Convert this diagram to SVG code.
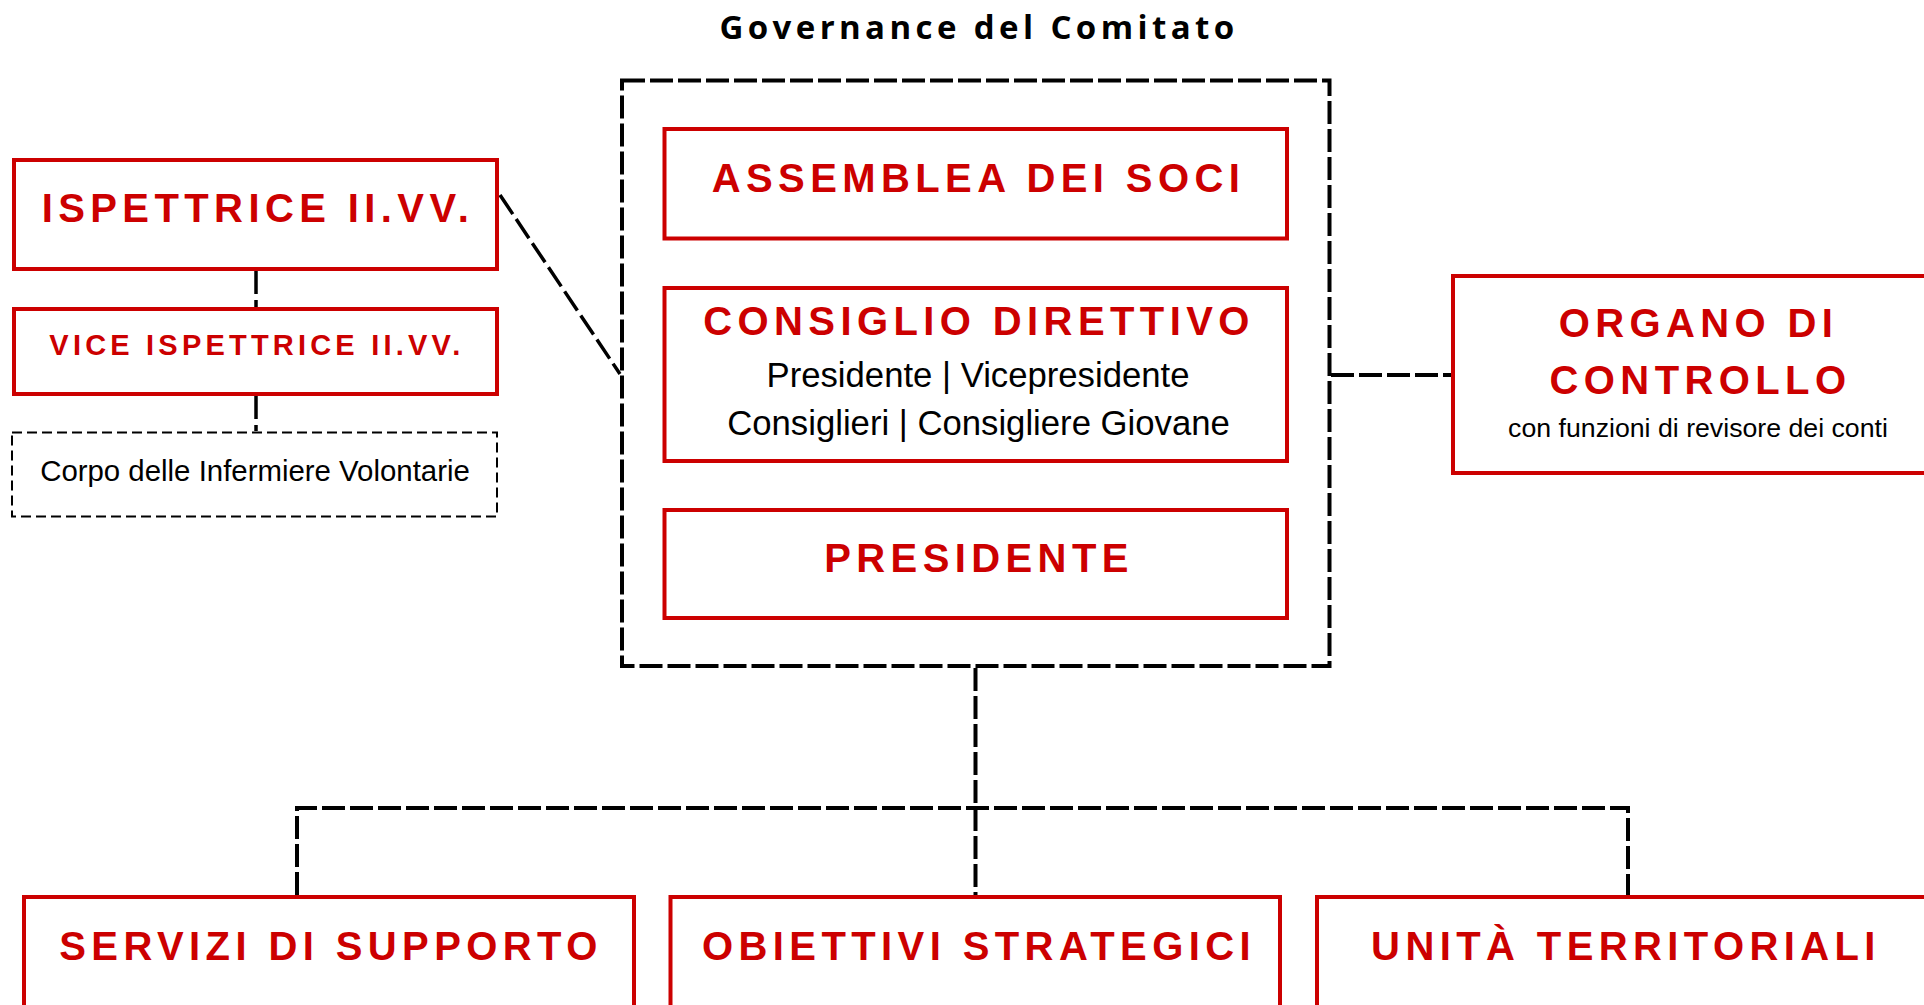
<svg xmlns="http://www.w3.org/2000/svg" width="1924" height="1005" viewBox="0 0 1924 1005">
<style>
.box{fill:#fff;stroke:#cc0000;stroke-width:4}
.dbox{fill:#fff;stroke:#000;stroke-width:2;stroke-dasharray:10 5}
.outer{fill:none;stroke:#000;stroke-width:4;stroke-dasharray:23 5}
.conn{fill:none;stroke:#000;stroke-width:4;stroke-dasharray:23 5}
.thin{fill:none;stroke:#000;stroke-width:3.5;stroke-dasharray:23 6}
.rt{font-family:"Liberation Sans",Arial,sans-serif;font-weight:bold;fill:#cc0000;text-anchor:middle;letter-spacing:5.4px}
.bt{font-family:"Liberation Sans",Arial,sans-serif;fill:#000;text-anchor:middle}
.title{font-family:"Open Sans","Noto Sans",sans-serif;font-weight:bold;font-size:33px;fill:#000;text-anchor:middle;letter-spacing:4.4px}
</style>
<rect width="1924" height="1005" fill="#fff"/>
<text class="title" x="979" y="39">Governance del Comitato</text>
<g id="connectors">
<line class="thin" x1="256" y1="271" x2="256" y2="307"/>
<line class="thin" x1="256" y1="396" x2="256" y2="431"/>
<line class="thin" x1="500" y1="195" x2="620" y2="374"/>
<line class="conn" x1="1331" y1="375" x2="1451" y2="375"/>
<line class="conn" x1="975.5" y1="668" x2="975.5" y2="895"/>
<polyline class="conn" points="297,895 297,808 1628,808 1628,895"/>
</g>
<g id="governance">
<rect class="outer" x="622" y="80.5" width="707.5" height="585.5"/>
</g>
<g id="assemblea">
<rect class="box" x="664.5" y="129" width="622.5" height="109.5"/>
<text class="rt" x="978.5" y="192" font-size="40">ASSEMBLEA DEI SOCI</text>
</g>
<g id="consiglio">
<rect class="box" x="664.5" y="288" width="622.5" height="173"/>
<text class="rt" x="979" y="335" font-size="40">CONSIGLIO DIRETTIVO</text>
<text class="bt" x="978" y="387" font-size="34.7">Presidente | Vicepresidente</text>
<text class="bt" x="978.5" y="434.5" font-size="34.7">Consiglieri | Consigliere Giovane</text>
</g>
<g id="presidente">
<rect class="box" x="664.5" y="510" width="622.5" height="108"/>
<text class="rt" x="979" y="571.5" font-size="40">PRESIDENTE</text>
</g>
<g id="ispettrice">
<rect class="box" x="14" y="160" width="483" height="109"/>
<text class="rt" x="258" y="222" font-size="40">ISPETTRICE II.VV.</text>
</g>
<g id="vice">
<rect class="box" x="14" y="309" width="483" height="85"/>
<text class="rt" x="257" y="355" font-size="29" style="letter-spacing:4.2px">VICE ISPETTRICE II.VV.</text>
</g>
<g id="corpo">
<rect class="dbox" x="12" y="432.5" width="485" height="84"/>
<text class="bt" x="255" y="481" font-size="29.4">Corpo delle Infermiere Volontarie</text>
</g>
<g id="organo">
<rect class="box" x="1453" y="276" width="480" height="197"/>
<text class="rt" x="1698.5" y="337" font-size="40">ORGANO DI</text>
<text class="rt" x="1700.5" y="393.5" font-size="40">CONTROLLO</text>
<text class="bt" x="1698" y="437" font-size="26.7">con funzioni di revisore dei conti</text>
</g>
<g id="servizi">
<rect class="box" x="24" y="897" width="610" height="130"/>
<text class="rt" x="331" y="960" font-size="40">SERVIZI DI SUPPORTO</text>
</g>
<g id="obiettivi">
<rect class="box" x="670.5" y="897" width="609.5" height="130"/>
<text class="rt" x="979" y="960" font-size="40">OBIETTIVI STRATEGICI</text>
</g>
<g id="unita">
<rect class="box" x="1317" y="897" width="614" height="130"/>
<text class="rt" x="1626" y="960" font-size="40">UNITÀ TERRITORIALI</text>
</g>
</svg>
